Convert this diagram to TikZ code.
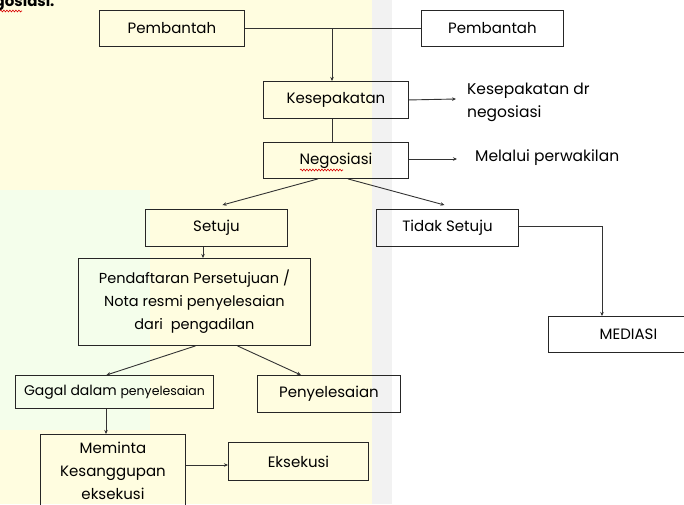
\documentclass[tikz,border=0pt]{standalone}
\usepackage{fontspec}
\setmainfont{Poppins}
\usetikzlibrary{arrows.meta,decorations.pathmorphing}
\tikzset{
  box/.style={draw=black!85, line width=0.9pt, rectangle, anchor=north west, inner sep=0pt, align=center, font=\fontsize{15}{18}\selectfont},
  link/.style={draw=black!80, line width=0.9pt},
  arr/.style={link, -{Stealth[length=4pt,width=3.5pt]}},
  note/.style={anchor=west, align=left, font=\fontsize{15.5}{18}\selectfont, inner sep=0pt},
  squiggle/.style={draw=red!85!black, line width=0.6pt, decorate, decoration={snake, amplitude=0.9pt, segment length=3pt}}
}
\begin{document}
\begin{tikzpicture}[x=1pt,y=-1pt]
\useasboundingbox (0,0) rectangle (684,504);
\begin{scope}
\clip (0,0) rectangle (684,504);
% faint backdrop tint
\fill[yellow!12] (0,0) rectangle (385,504);
\fill[green!6, opacity=0.7] (0,190) rectangle (150,430);
\fill[black!5] (372,0) rectangle (392,504);
% heading, cut off at the top left
\node[anchor=base west, inner sep=0pt, font=\bfseries\fontsize{15}{17}\selectfont] (title) at (-26,6) {Negosiasi.};
\coordinate (sq1a) at (0,11);
\coordinate (sq1b) at (22,11);
\draw[squiggle] (sq1a) -- (sq1b);

% boxes
\node[box, minimum width=145pt, minimum height=36pt] (pb1) at (99,10) {Pembantah};
\node[box, minimum width=142pt, minimum height=36pt] (pb2) at (421,10) {Pembantah};
\node[box, minimum width=145pt, minimum height=37pt] (kes) at (263,81) {Kesepakatan};
\node[box, minimum width=145pt, minimum height=36pt] (neg) at (263,142) {Negosiasi};
\node[box, minimum width=142pt, minimum height=37pt] (set) at (145,209) {Setuju};
\node[box, minimum width=142pt, minimum height=37pt] (tdk) at (376,209) {Tidak Setuju};
\node[box, minimum width=160pt, minimum height=36pt] (med) at (548,316) {MEDIASI};
\node[box, minimum width=232pt, minimum height=87pt, font=\fontsize{14.5}{23}\selectfont] (pen) at (78,258)
  {Pendaftaran Persetujuan /\\Nota resmi penyelesaian\\dari\ \ pengadilan};
\node[box, minimum width=198pt, minimum height=33pt, font=\fontsize{14}{16}\selectfont] (gag) at (15,375)
  {Gagal dalam {\fontsize{12.5}{14}\selectfont penyelesaian}};
\node[box, minimum width=143pt, minimum height=37pt] (sls) at (257,375) {Penyelesaian};
\node[box, minimum width=145pt, minimum height=72pt, font=\fontsize{15}{23}\selectfont] (mem) at (40,434)
  {Meminta\\Kesanggupan\\eksekusi};
\node[box, minimum width=140pt, minimum height=38pt] (eks) at (228,442) {Eksekusi};

% spell-check mark under the word in the Negosiasi box
\coordinate (sq2a) at (300,170);
\coordinate (sq2b) at (343,170);
\draw[squiggle] (sq2a) -- (sq2b);

% side notes
\node[note] (n1) at (467,102) {Kesepakatan dr\\[5pt]negosiasi};
\node[note] (n2) at (475,158) {Melalui perwakilan};
\coordinate (n1a) at (456,99);
\coordinate (n2a) at (457,159);

% connectors
\coordinate (j1) at (332,29);
\draw[link] (pb1.east) -- (pb2.west);
\draw[arr] (j1) -- (kes.north -| j1);
\draw[link] (kes.south -| j1) -- (neg.north -| j1);
\draw[arr] (kes.east) -- (n1a);
\draw[arr] (neg.east |- n2a) -- (n2a);
\draw[arr] ([xshift=-18pt]neg.south) -- ([xshift=6pt,yshift=4pt]set.north);
\draw[arr] ([xshift=12pt]neg.south) -- ([xshift=-3pt,yshift=4pt]tdk.north);
\coordinate (tk) at (602,226);
\draw[arr] (tdk.east |- tk) -- (tk) -- (tk |- med.north);
\draw[arr] (set.south -| 203,0) -- (pen.north -| 203,0);
\draw[arr] ([xshift=1pt]pen.south) -- ([xshift=-8pt]gag.north);
\draw[arr] ([xshift=43pt]pen.south) -- ([xshift=-28pt]sls.north);
\draw[arr] (gag.south -| 106,0) -- (mem.north -| 106,0);
\draw[arr] (mem.east |- 0,465) -- (eks.west |- 0,465);
\end{scope}
\end{tikzpicture}
\end{document}
